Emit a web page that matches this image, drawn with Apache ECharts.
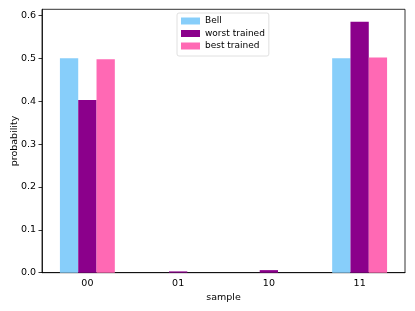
<!DOCTYPE html>
<html>
<head>
<meta charset="utf-8">
<script src="https://cdn.jsdelivr.net/npm/echarts@6/dist/echarts.min.js"></script>
<style>html,body{margin:0;padding:0;background:#fff}#c{width:415px;height:311px}</style>
</head>
<body>
<div id="c"></div>
<script>
const categories = ['00', '01', '10', '11'];
const bell = [0.5, 0, 0, 0.5];
const worstTrained = [0.403, 0.003, 0.006, 0.585];
const bestTrained = [0.498, 0, 0, 0.502];
const yTicks = [0, 0.1, 0.2, 0.3, 0.4, 0.5, 0.6];

const font = 'DejaVu Sans';
const chart = echarts.init(document.getElementById('c'), null, {renderer: 'canvas'});
chart.setOption({
  animation: false,
  backgroundColor: '#fff',
  textStyle: {fontFamily: font},
  grid: {left: 42, right: 10, top: 9.3, bottom: 38.3, containLabel: false, outerBoundsMode: 'none',
    show: true, borderColor: '#000', borderWidth: 0.8, backgroundColor: 'transparent'},
  legend: {
    orient: 'vertical', left: 177, top: 13,
    data: ['Bell', 'worst trained', 'best trained'],
    itemWidth: 19, itemHeight: 7, itemGap: 0.5,
    padding: [2, 4, 4, 4],
    backgroundColor: '#fff', borderColor: '#d8d8d8', borderWidth: 0.8, borderRadius: 2,
    textStyle: {fontFamily: font, fontSize: 9, color: '#000', lineHeight: 12, padding: [0, 0, 0, 0]},
    icon: 'rect'
  },
  xAxis: {
    type: 'category', data: categories,
    name: 'sample', nameLocation: 'middle', nameGap: 20, nameMoveOverlap: false,
    nameTextStyle: {fontFamily: font, fontSize: 9.5, color: '#000'},
    axisLine: {lineStyle: {color: '#000', width: 0.8}},
    axisTick: {alignWithLabel: true, length: 3.5, lineStyle: {color: '#000', width: 0.8}},
    axisLabel: {fontFamily: font, fontSize: 9.5, color: '#000', margin: 6},
    splitLine: {show: false}
  },
  yAxis: {
    type: 'value', min: 0, max: 0.6143, interval: 0.1,
    name: 'probability', nameLocation: 'middle', nameGap: 27, nameMoveOverlap: false,
    nameTextStyle: {fontFamily: font, fontSize: 9.5, color: '#000', verticalAlign: 'middle'},
    axisLine: {show: true, lineStyle: {color: '#000', width: 0.8}},
    axisTick: {show: true, length: 3.5, lineStyle: {color: '#000', width: 0.8}, customValues: yTicks},
    axisLabel: {fontFamily: font, fontSize: 9.5, color: '#000', margin: 6, customValues: yTicks,
      formatter: v => v.toFixed(1)},
    splitLine: {show: false}
  },
  series: [
    {name: 'Bell', type: 'bar', data: bell, barWidth: 18.3, barGap: '0%', itemStyle: {color: '#87CEFA'}},
    {name: 'worst trained', type: 'bar', data: worstTrained, barWidth: 18.3, barGap: '0%', itemStyle: {color: '#8B008B'}},
    {name: 'best trained', type: 'bar', data: bestTrained, barWidth: 18.3, barGap: '0%', itemStyle: {color: '#FF69B4'}}
  ]
});
</script>
</body>
</html>
